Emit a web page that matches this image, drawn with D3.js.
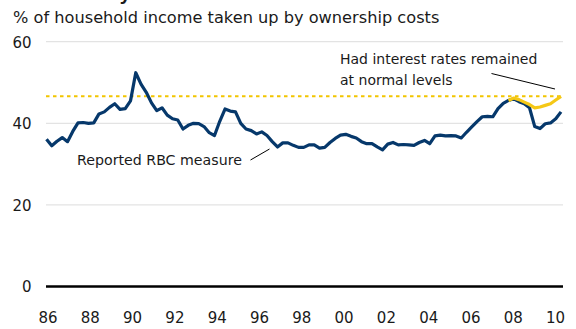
<!DOCTYPE html>
<html>
<head>
<meta charset="utf-8">
<script src="https://cdn.jsdelivr.net/npm/d3@7"></script>
<style>
  body { margin: 0; background: #fff; }
  text { font-family: "DejaVu Sans", Verdana, sans-serif; fill: #1a1a1a; }
</style>
</head>
<body>
<script>
'use strict';

// quarterly data, first point is 1986 Q1
const startYear = 1986;

// reported RBC measure, % of household income
const reportedValues = [
  36.1, 34.5, 35.6, 36.5, 35.5, 38.0, 40.1, 40.2, 40.0, 40.1,
  42.3, 42.8, 43.9, 44.8, 43.4, 43.6, 45.5, 52.4, 49.6, 47.6,
  45.0, 43.1, 43.8, 42.0, 41.1, 40.8, 38.6, 39.5, 40.0, 39.9,
  39.2, 37.7, 37.0, 40.5, 43.5, 43.0, 42.8, 40.0, 38.6, 38.2,
  37.4, 37.9, 37.0, 35.5, 34.2, 35.2, 35.2, 34.6, 34.1, 34.1,
  34.7, 34.7, 33.9, 34.1, 35.3, 36.3, 37.1, 37.3, 36.8, 36.4,
  35.5, 35.0, 35.0, 34.2, 33.5, 34.9, 35.3, 34.7, 34.8, 34.7,
  34.6, 35.3, 35.8, 35.0, 36.9, 37.1, 36.9, 37.0, 36.9, 36.4,
  37.8, 39.1, 40.4, 41.6, 41.7, 41.6, 43.6, 44.9, 45.6, 46.0,
  45.3, 44.8, 43.8, 39.2, 38.7, 39.9, 40.1, 41.1, 42.8
];

// "had interest rates remained at normal levels", starts at quarter index 88
const normalStartIndex = 88;
const normalRateValues = [45.6, 46.2, 45.8, 45.2, 44.6, 43.8, 44.0, 44.4, 44.8, 45.7, 46.6];

// long-run average shown as dotted line
const normalAverage = 46.6;

const yTickValues = [0, 20, 40, 60];
const xTickYears = [1986, 1988, 1990, 1992, 1994, 1996, 1998, 2000, 2002, 2004, 2006, 2008, 2010];

(function() {

  let svgContainer = "";

  window.onload = function() {
    svgContainer = d3.select('body')
      .append('svg')
      .attr('width', 576)
      .attr('height', 329);

    let mapFunctions = drawTicks();
    plotData(mapFunctions);
    makeLabels();
  }

  // draw gridlines, zero line and axis labels
  function drawTicks() {
    let xScale = d3.scaleLinear()
      .domain([startYear, 2010.5])
      .range([46.5, 561]);

    let yScale = d3.scaleLinear()
      .domain([0, 60])
      .range([286.5, 41.7]);

    let plotLeft = 46, plotRight = 563;

    // light gridlines
    svgContainer.selectAll('.grid')
      .data(yTickValues.filter(d => d > 0))
      .enter()
      .append('line')
        .attr('x1', plotLeft)
        .attr('x2', plotRight)
        .attr('y1', d => yScale(d))
        .attr('y2', d => yScale(d))
        .attr('stroke', '#e3e3e3')
        .attr('stroke-width', 1.2);

    // y labels
    let yAxis = d3.axisLeft(yScale)
      .tickValues(yTickValues)
      .tickSize(0)
      .tickPadding(0);
    let yg = svgContainer.append('g')
      .attr('transform', 'translate(31.5, 0)')
      .call(yAxis);
    yg.select('.domain').remove();
    yg.selectAll('text')
      .style('font-size', '15px')
      .attr('dy', '0.36em');

    // x labels, spread a touch wider than the data scale
    let xAxis = d3.axisBottom(xScale)
      .tickValues(xTickYears)
      .tickSize(0)
      .tickPadding(0)
      .tickFormat(d => String(d).slice(2));
    let xg = svgContainer.append('g')
      .attr('transform', 'translate(0, 312)')
      .call(xAxis);
    xg.select('.domain').remove();
    xg.selectAll('.tick')
      .attr('transform', d => 'translate(' + (xScale(d) + 1.5 + (d - startYear) * 0.15) + ',0)');
    xg.selectAll('text')
      .style('font-size', '15px');

    // zero line
    svgContainer.append('line')
      .attr('x1', plotLeft)
      .attr('x2', plotRight)
      .attr('y1', yScale(0))
      .attr('y2', yScale(0))
      .attr('stroke', '#000')
      .attr('stroke-width', 2.5);

    return { xScale: xScale, yScale: yScale, left: plotLeft, right: plotRight };
  }

  // plot the series
  function plotData(map) {
    let x = map.xScale, y = map.yScale;

    // dotted average line
    svgContainer.append('line')
      .attr('x1', map.left)
      .attr('x2', map.right)
      .attr('y1', y(normalAverage))
      .attr('y2', y(normalAverage))
      .attr('stroke', '#f2c500')
      .attr('stroke-width', 2)
      .attr('stroke-dasharray', '3.5,3.5');

    let line = d3.line()
      .x(d => x(d.year))
      .y(d => y(d.value));

    let reported = reportedValues.map((v, i) => ({ year: startYear + i / 4, value: v }));
    let normal = normalRateValues.map((v, i) => ({ year: startYear + (normalStartIndex + i) / 4, value: v }));

    svgContainer.append('path')
      .datum(reported)
      .attr('d', line)
      .attr('fill', 'none')
      .attr('stroke', '#06386b')
      .attr('stroke-width', 3.2)
      .attr('stroke-linejoin', 'round');

    svgContainer.append('path')
      .datum(normal)
      .attr('d', line)
      .attr('fill', 'none')
      .attr('stroke', '#f5c816')
      .attr('stroke-width', 3.2)
      .attr('stroke-linejoin', 'round');
  }

  // titles and annotations
  function makeLabels() {
    // title mostly cut off above the frame
    svgContainer.append('text')
      .attr('x', 13)
      .attr('y', -0.5)
      .style('font-family', '"Liberation Sans", Arial, sans-serif')
      .style('font-size', '20px')
      .style('font-weight', 'bold')
      .text('Affordability');

    svgContainer.append('text')
      .attr('x', 13)
      .attr('y', 23)
      .style('font-size', '16.2px')
      .text('% of household income taken up by ownership costs');

    svgContainer.append('text')
      .attr('x', 340)
      .attr('y', 64)
      .style('font-size', '14px')
      .text('Had interest rates remained');

    svgContainer.append('text')
      .attr('x', 340)
      .attr('y', 85)
      .style('font-size', '14px')
      .text('at normal levels');

    svgContainer.append('line')
      .attr('x1', 491.5).attr('y1', 73.5)
      .attr('x2', 555).attr('y2', 89)
      .attr('stroke', '#000')
      .attr('stroke-width', 1);

    svgContainer.append('text')
      .attr('x', 77)
      .attr('y', 165)
      .style('font-size', '14.2px')
      .text('Reported RBC measure');

    svgContainer.append('line')
      .attr('x1', 250.5).attr('y1', 160)
      .attr('x2', 269.5).attr('y2', 149)
      .attr('stroke', '#000')
      .attr('stroke-width', 1);
  }

})();
</script>
</body>
</html>
